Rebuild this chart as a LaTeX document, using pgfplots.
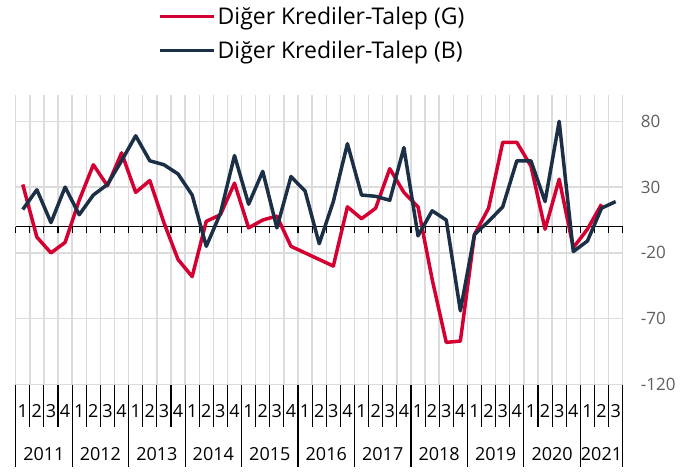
\documentclass[border=0pt]{standalone}
\usepackage{pgfplots}
\pgfplotsset{compat=1.18}
\usepackage{fontspec}
\setmainfont{Open Sans}
\definecolor{kred}{RGB}{213,0,50}
\definecolor{knavy}{RGB}{27,47,70}
\definecolor{kgrid}{RGB}{220,220,220}
\definecolor{klab}{RGB}{95,95,95}

\begin{document}
\begin{tikzpicture}
\begin{axis}[
    at={(0,0)}, anchor=south west,
    scale only axis, width=607bp, height=289.5bp,
    xmin=-0.5, xmax=42.5, ymin=-120, ymax=100,
    clip=false,
    axis line style={draw=none},
    major tick length=0pt, minor tick length=0pt,
    xtick={0,...,42},
    xticklabels={1,2,3,4,1,2,3,4,1,2,3,4,1,2,3,4,1,2,3,4,1,2,3,4,1,2,3,4,1,2,3,4,1,2,3,4,1,2,3,4,1,2,3},
    xticklabel style={anchor=center, yshift=-26.5bp, inner sep=0pt, font=\fontsize{18bp}{20bp}\selectfont},
    minor xtick={-0.5,0.5,...,42.5},
    xminorgrids,
    ytick={-120,-70,-20,30,80},
    ymajorgrids,
    grid style={kgrid, line width=1.4bp},
    minor grid style={kgrid, line width=1.4bp},
    yticklabel pos=right,
    yticklabel style={anchor=west, inner sep=0pt, xshift=18bp, text=klab, font=\fontsize{17bp}{19bp}\selectfont},
    /pgf/number format/assume math mode=true,
    legend style={at={(axis description cs:0.2344,1.311)}, anchor=north west,
        draw=none, fill=none, inner sep=0pt, row sep=11bp,
        font=\fontsize{23bp}{26bp}\selectfont,
        nodes={inner xsep=2bp, inner ysep=2bp}, cells={anchor=west}},
    legend image code/.code={\draw[#1] (0bp,0bp) -- (54bp,0bp);},
]

% zero line with small ticks
\draw[black, line width=1.3bp] (axis cs:-0.5,0) -- (axis cs:42.5,0);
\pgfplotsinvokeforeach{-0.5,0.5,...,42.5}{
    \draw[black, line width=1.1bp] (axis cs:#1,0) -- ++(0bp,-6bp);
    \draw[black, line width=1.1bp] (axis cs:#1,-120) -- ++(0bp,-42bp);
}
\pgfplotsinvokeforeach{-0.5,3.5,7.5,11.5,15.5,19.5,23.5,27.5,31.5,35.5,39.5,42.5}{
    \draw[black, line width=1.1bp] (axis cs:#1,-120) -- ++(0bp,-82bp);
}

\addplot[kred, line width=3.5bp, line join=round] coordinates {
    (0,32)(1,-8)(2,-20)(3,-12)(4,20)(5,47)(6,31)(7,56)(8,26)(9,35)
    (10,3)(11,-25)(12,-38)(13,4)(14,9)(15,33)(16,-1)(17,5)(18,8)(19,-15)
    (20,-20)(21,-25)(22,-30)(23,15)(24,6)(25,14)(26,44)(27,26)(28,15)(29,-40)
    (30,-88)(31,-87)(32,-6)(33,14)(34,64)(35,64)(36,46)(37,-2)(38,36)(39,-16)
    (40,-2)(41,17)
};
\addlegendentry{Diğer Krediler-Talep (G)}

\addplot[knavy, line width=3.5bp, line join=round] coordinates {
    (0,13)(1,28)(2,3)(3,30)(4,9)(5,24)(6,32)(7,50)(8,69)(9,50)
    (10,47)(11,40)(12,24)(13,-15)(14,10)(15,54)(16,17)(17,42)(18,-1)(19,38)
    (20,27)(21,-13)(22,19)(23,63)(24,24)(25,23)(26,20)(27,60)(28,-7)(29,12)
    (30,5)(31,-64)(32,-6)(33,4)(34,15)(35,50)(36,50)(37,19)(38,80)(39,-19)
    (40,-11)(41,14)(42,19)
};
\addlegendentry{Diğer Krediler-Talep (B)}

% year labels
\path[font=\fontsize{18bp}{20bp}\selectfont]
    (axis cs:1.5,-120) node[yshift=-70bp] {2011}
    (axis cs:5.5,-120) node[yshift=-70bp] {2012}
    (axis cs:9.5,-120) node[yshift=-70bp] {2013}
    (axis cs:13.5,-120) node[yshift=-70bp] {2014}
    (axis cs:17.5,-120) node[yshift=-70bp] {2015}
    (axis cs:21.5,-120) node[yshift=-70bp] {2016}
    (axis cs:25.5,-120) node[yshift=-70bp] {2017}
    (axis cs:29.5,-120) node[yshift=-70bp] {2018}
    (axis cs:33.5,-120) node[yshift=-70bp] {2019}
    (axis cs:37.5,-120) node[yshift=-70bp] {2020}
    (axis cs:41,-120) node[yshift=-70bp] {2021};
\end{axis}
\pgfresetboundingbox
\useasboundingbox (-15.7bp,-90.5bp) rectangle (678.3bp,384.5bp);
\end{tikzpicture}
\end{document}
